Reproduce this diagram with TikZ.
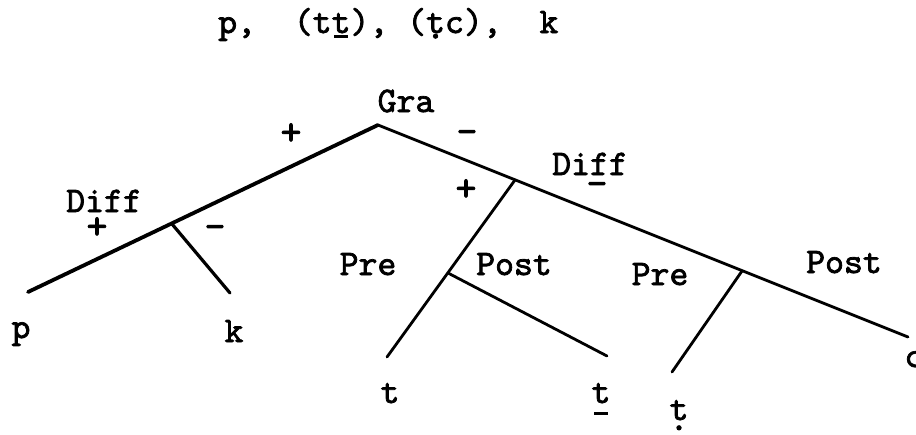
\documentclass[tikz,border=0pt]{standalone}
\usepackage{fontspec}
\newfontfamily\tw{lmmono10-regular.otf}[FakeBold=2]
\newcommand\barunder[2][0.33em]{\leavevmode\ooalign{#2\cr\hidewidth\raisebox{-#1}{\rule{0.38em}{0.09em}}\hidewidth\cr}}
\newcommand\dotunder[2][0.25em]{\leavevmode\ooalign{#2\cr\hidewidth\raisebox{-#1}{.}\hidewidth\cr}}
\begin{document}
\begin{tikzpicture}[x=1pt,y=-1pt,
  lbl/.style={font=\tw\fontsize{36}{40}\selectfont, inner sep=0pt, anchor=base},
  sgn/.style={font=\tw\fontsize{40}{44}\selectfont, inner sep=0pt},
  branch/.style={line width=2.8pt, line cap=round},
  heavy/.style={line width=3.8pt, line cap=round}]
\useasboundingbox (0,0) rectangle (916,434);
% title
\node[lbl, anchor=base west] (title) at (218,33) {p,\ \ (t\barunder[0.15em]{t}), (\dotunder[0.15em]{t}c),\ \ k};
% junction points and free ends
\coordinate (A) at (378,125);
\coordinate (P) at (28,292);
\coordinate (L) at (172,224);
\coordinate (K) at (230,293);
\coordinate (C) at (908,337);
\coordinate (R) at (515,180);
\coordinate (T1) at (387,357);
\coordinate (M) at (448,273);
\coordinate (T2) at (607,356);
\coordinate (Q) at (742,271);
\coordinate (T3) at (672,372);
% branches
\draw[heavy] (A) -- (P);
\draw[heavy, line width=3.2pt] (L) -- (K);
\draw[branch] (A) -- (C);
\draw[branch] (R) -- (T1);
\draw[branch] (M) -- (T2);
\draw[branch] (Q) -- (T3);
% labels
\node[lbl] (gra) at (406,112) {Gra};
\node[lbl] (diffL) at (104,212) {Diff};
\node[lbl] (diffR) at (590,175) {Diff};
\node[lbl] (preL) at (368,275) {Pre};
\node[lbl] (postM) at (514,275) {Post};
\node[lbl] (preR) at (660,285) {Pre};
\node[lbl] (postR) at (844,273) {Post};
\node[lbl] (lp) at (21,338) {p};
\node[lbl] (lk) at (234,342) {k};
\node[lbl] (lt1) at (390,403) {t};
\node[lbl] (lt2) at (601,403) {\barunder{t}};
\node[lbl] (lt3) at (679,420) {\dotunder[0.28em]{t}};
\node[lbl] (lc) at (914,367) {c};
% signs
\node[sgn] (s1) at (291,134) {+};
\node[sgn] (s2) at (467,137) {-};
\node[sgn] (s3) at (97,228) {+};
\node[sgn] (s4) at (215,232) {-};
\node[sgn] (s5) at (466,190) {+};
\node[sgn] (s6) at (597,189) {-};
\end{tikzpicture}
\end{document}
